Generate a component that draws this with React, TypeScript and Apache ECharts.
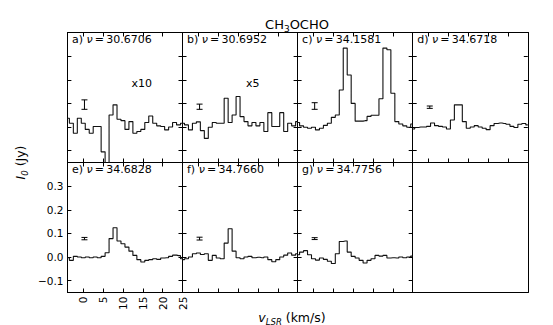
import React, { useEffect, useRef } from 'react';
import * as echarts from 'echarts';

const VELOCITY = [-4, -3, -2, -1, 0, 1, 2, 3, 4, 5, 6, 7, 8, 9, 10, 11, 12, 13, 14, 15, 16, 17, 18, 19, 20, 21, 22, 23, 24, 25];
const SPEC_A = [0.037, 0.016, -0.026, 0.037, 0.016, -0.010, -0.026, 0.002, 0.002, -0.105, -0.2, 0.051, 0.094, 0.033, 0.027, -0.010, 0.023, -0.026, -0.019, -0.010, 0.019, 0.047, 0.016, 0.005, 0.002, -0.012, 0, 0.019, 0.009, 0.016];
const SPEC_B = [0.016, 0.009, -0.012, 0.016, 0.022, -0.015, -0.048, -0.001, 0.019, 0.016, 0.016, 0.122, 0.019, 0.051, 0.129, 0.044, 0.023, 0.005, 0.019, 0.005, 0.019, -0.019, 0.061, 0.002, 0.002, 0.061, -0.019, 0.016, 0.005, 0.023];
const SPEC_C = [0.019, 0.005, -0.001, -0.005, -0.001, -0.012, -0.005, 0.007, 0.016, 0.041, 0.051, 0.157, 0.334, 0.22, 0.1, 0.025, 0.025, 0.027, 0.045, 0.05, 0.05, 0.12, 0.334, 0.327, 0.143, 0.023, 0.013, 0.005, -0.001, 0.013];
const SPEC_D = [-0.008, -0.002, 0, 0, 0.003, 0.017, 0.006, 0.003, 0, -0.008, 0.030, 0.094, 0.094, 0.023, -0.005, 0, 0.006, 0, -0.005, -0.011, 0.006, 0.015, 0.017, 0.015, 0.012, 0.003, -0.002, 0.012, 0.015, 0.009];
const SPEC_E = [-0.003, -0.014, 0.003, 0, -0.003, 0, -0.003, 0, -0.003, 0.003, 0.018, 0.078, 0.124, 0.068, 0.056, 0.042, 0.025, 0.007, -0.011, -0.021, -0.014, -0.011, -0.007, -0.010, -0.004, -0.003, 0.003, 0.008, 0.006, -0.007];
const SPEC_F = [-0.011, -0.007, 0, 0.014, 0.017, 0.011, 0.014, -0.014, 0.007, -0.004, -0.007, 0.059, 0.120, 0.025, -0.003, -0.007, 0, 0.003, -0.003, -0.001, -0.003, 0, -0.011, -0.020, -0.011, 0, 0.008, 0.017, 0.008, 0.014];
const SPEC_G = [0.010, 0.021, 0.027, 0.010, -0.007, -0.013, -0.004, -0.010, -0.018, -0.027, 0.014, 0.066, 0.068, 0.021, 0.003, -0.004, -0.014, -0.025, -0.014, -0.007, 0.007, 0.004, 0.007, -0.004, -0.003, -0.004, 0, -0.003, 0, 0.004];

const PANEL_LETTERS = ['a)', 'b)', 'c)', 'd)', 'e)', 'f)', 'g)'];
const FREQUENCIES = ['30.6706', '30.6952', '34.1581', '34.6718', '34.6828', '34.7660', '34.7756'];
const SCALE_NOTES = ['x10', 'x5'];
const ERR_X = [0.3, 0.3, 0.3, 0.3, 0.3, 0.3, 0.3];
const ERR_MID = [0.095, 0.086, 0.089, 0.084, 0.078, 0.078, 0.078];
const ERR_HALF = [0.02, 0.011, 0.014, 0.005, 0.005, 0.006, 0.004];
const X_TICKS = [0, 5, 10, 15, 20, 25];
const Y_TICKS = [-0.1, 0, 0.1, 0.2, 0.3];

const FONT = 'DejaVu Sans';

export default function App() {
  const ref = useRef<HTMLDivElement>(null);
  useEffect(() => {
    if (!ref.current) return;
    const chart = echarts.init(ref.current, null, { renderer: 'svg' });
    const spectra = [SPEC_A, SPEC_B, SPEC_C, SPEC_D, SPEC_E, SPEC_F, SPEC_G];
    const colLeft = [67.4, 182.5, 297.6, 412.7];
    const colW = 115.1;
    const rowTop = [32.5, 162.5];
    const rowH = 130;

    const grids: any[] = [];
    const xAxes: any[] = [];
    const yAxes: any[] = [];
    const series: any[] = [];
    const graphics: any[] = [];

    const lineStyle = { color: '#000', width: 1 };

    for (let i = 0; i < 8; i++) {
      const col = i % 4;
      const row = Math.floor(i / 4);
      const hasData = i < 7;
      grids.push({ left: colLeft[col], top: rowTop[row], width: colW, height: rowH, show: false });
      const isE = i === 4;
      const baseX = {
        type: 'value', gridIndex: i, min: -4, max: 25,
        axisLine: { show: true, onZero: false, lineStyle },
        splitLine: { show: false },
      };
      xAxes.push({
        ...baseX, position: 'bottom',
        axisTick: { show: hasData, inside: true, length: 4, lineStyle, customValues: X_TICKS },
        axisLabel: {
          show: isE, rotate: 90, margin: 4, fontSize: 10.5, color: '#000', fontFamily: FONT,
          customValues: X_TICKS, formatter: (v: number) => String(v),
        },
      });
      xAxes.push({
        ...baseX, position: 'top',
        axisTick: { show: hasData, inside: true, length: 4, lineStyle, customValues: X_TICKS },
        axisLabel: { show: false },
      });
      const baseY = {
        type: 'value', gridIndex: i, min: -0.15, max: 0.4,
        axisLine: { show: true, onZero: false, lineStyle },
        splitLine: { show: false },
      };
      yAxes.push({
        ...baseY, position: 'left',
        axisTick: { show: hasData, inside: true, length: 4, lineStyle, customValues: Y_TICKS },
        axisLabel: {
          show: isE, margin: 4, fontSize: 10.5, color: '#000', fontFamily: FONT,
          customValues: Y_TICKS,
          formatter: (v: number) => (v < -1e-9 ? '\u2212' + Math.abs(v).toFixed(1) : Math.abs(v).toFixed(1)),
        },
      });
      yAxes.push({
        ...baseY, position: 'right',
        axisTick: { show: hasData, inside: true, length: 4, lineStyle, customValues: Y_TICKS },
        axisLabel: { show: false },
      });

      if (hasData) {
        const spec = spectra[i];
        series.push({
          type: 'line', xAxisIndex: 2 * i, yAxisIndex: 2 * i, step: 'middle',
          showSymbol: false, symbol: 'none', clip: true,
          lineStyle: { color: '#111', width: 1.1 },
          data: VELOCITY.map((v, k) => [v, spec[k]]),
          silent: true,
        });
        series.push({
          type: 'custom', xAxisIndex: 2 * i, yAxisIndex: 2 * i,
          data: [[ERR_X[i], ERR_MID[i] - ERR_HALF[i], ERR_MID[i] + ERR_HALF[i]]],
          encode: { x: 0, y: [1, 2] },
          renderItem: (params: any, api: any) => {
            const x = api.value(0);
            const p1 = api.coord([x, api.value(2)]);
            const p2 = api.coord([x, api.value(1)]);
            const st = { stroke: '#000', lineWidth: 1 };
            const cw = 3;
            return {
              type: 'group',
              children: [
                { type: 'line', shape: { x1: p1[0], y1: p1[1], x2: p2[0], y2: p2[1] }, style: st },
                { type: 'line', shape: { x1: p1[0] - cw, y1: p1[1], x2: p1[0] + cw, y2: p1[1] }, style: st },
                { type: 'line', shape: { x1: p2[0] - cw, y1: p2[1], x2: p2[0] + cw, y2: p2[1] }, style: st },
              ],
            };
          },
          silent: true,
        });
        graphics.push({
          type: 'text', left: colLeft[col] + 4.5, top: rowTop[row] + 1.5,
          style: {
            text: PANEL_LETTERS[i] + ' {i|\u03bd}\u2009=\u2009' + FREQUENCIES[i],
            fontSize: 11, fontFamily: FONT, fill: '#000',
            rich: { i: { fontStyle: 'italic', fontSize: 11, fontFamily: FONT, fill: '#000' } },
          },
        });
      }
    }

    graphics.push({
      type: 'text', x: 141.7, y: 83, style: { text: SCALE_NOTES[0], fontSize: 11, fontFamily: FONT, fill: '#000', align: 'center', verticalAlign: 'middle' },
    });
    graphics.push({
      type: 'text', x: 252.7, y: 83, style: { text: SCALE_NOTES[1], fontSize: 11, fontFamily: FONT, fill: '#000', align: 'center', verticalAlign: 'middle' },
    });
    graphics.push({
      type: 'text', x: 297, y: 23,
      style: {
        text: '{n|CH}{s|3}{n|OCHO}', align: 'center', verticalAlign: 'middle', fill: '#000',
        rich: {
          n: { fontSize: 13, fontFamily: FONT, fill: '#000', lineHeight: 16, verticalAlign: 'bottom' },
          s: { fontSize: 9, fontFamily: FONT, fill: '#000', lineHeight: 16, verticalAlign: 'bottom', padding: [0, 0, -2, 0] },
        },
      },
    });
    graphics.push({
      type: 'text', x: 292, y: 316,
      style: {
        text: '{v|v}{s|LSR}{n| (km/s)}', align: 'center', verticalAlign: 'middle', fill: '#000',
        rich: {
          v: { fontSize: 12.5, fontFamily: FONT, fontStyle: 'italic', fill: '#000', lineHeight: 16, verticalAlign: 'bottom' },
          s: { fontSize: 8.5, fontFamily: FONT, fontStyle: 'italic', fill: '#000', lineHeight: 16, verticalAlign: 'bottom', padding: [0, 0, -2, 0] },
          n: { fontSize: 12.5, fontFamily: FONT, fill: '#000', lineHeight: 16, verticalAlign: 'bottom' },
        },
      },
    });
    graphics.push({
      type: 'text', x: 19, y: 162.5, rotation: Math.PI / 2,
      style: {
        text: '{v|I}{s|0}{n| (Jy)}', align: 'center', verticalAlign: 'middle', fill: '#000',
        rich: {
          v: { fontSize: 12.5, fontFamily: FONT, fontStyle: 'italic', fill: '#000', lineHeight: 16, verticalAlign: 'bottom' },
          s: { fontSize: 8.5, fontFamily: FONT, fontStyle: 'italic', fill: '#000', lineHeight: 16, verticalAlign: 'bottom', padding: [0, 0, -2, 0] },
          n: { fontSize: 12.5, fontFamily: FONT, fill: '#000', lineHeight: 16, verticalAlign: 'bottom' },
        },
      },
    });

    chart.setOption({
      animation: false,
      backgroundColor: '#fff',
      grid: grids,
      xAxis: xAxes,
      yAxis: yAxes,
      series,
      graphic: graphics,
    });
    return () => chart.dispose();
  }, []);
  return <div ref={ref} style={{ position: 'absolute', left: 0, top: 0, width: 553, height: 325 }} />;
}
